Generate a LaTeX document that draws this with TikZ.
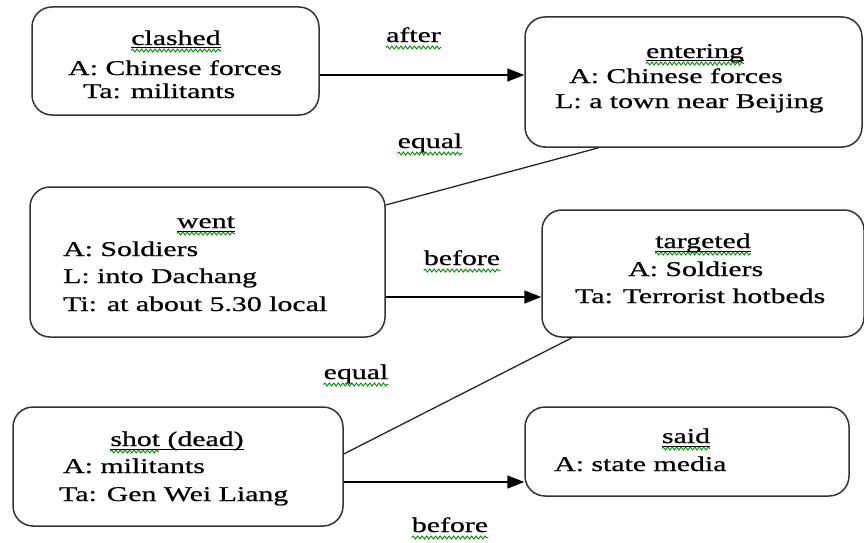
\documentclass[tikz,border=0pt]{standalone}
\usepackage{fontspec}
\setmainfont{Liberation Serif}[FakeStretch=1.42,FakeBold=0.7]
\usetikzlibrary{arrows.meta,calc,decorations.pathmorphing}
\tikzset{
  evbox/.style={draw=black!80, line width=1.5pt, rounded corners=20pt, inner sep=0pt},
  txt/.style={inner sep=0pt, anchor=base west, font=\fontsize{21}{26}\selectfont},
  head/.style={inner sep=0pt, anchor=base, font=\fontsize{21}{26}\selectfont},
  arr/.style={line width=1.7pt, -{Triangle[length=17pt,width=13pt]}},
  link/.style={line width=1.3pt, black!85},
  uline/.style={line width=1pt},
  squig/.style={draw=green!55!black, line width=0.9pt, decorate, decoration={snake, amplitude=1.5pt, segment length=4.5pt}}
}
\begin{document}
\begin{tikzpicture}[x=1pt,y=-1pt]
\useasboundingbox (0,0) rectangle (864,543);
% boxes
\node[evbox, minimum width=287pt, minimum height=108pt] (clashed) at (175.5,61) {};
\node[evbox, minimum width=337pt, minimum height=130pt] (entering) at (693.5,82) {};
\node[evbox, minimum width=355pt, minimum height=150pt] (went) at (207.5,262) {};
\node[evbox, minimum width=322pt, minimum height=127pt] (targeted) at (703,273.5) {};
\node[evbox, minimum width=330pt, minimum height=119pt] (shot) at (178,466.5) {};
\node[evbox, minimum width=324pt, minimum height=89pt] (said) at (687,451.5) {};
% clashed
\node[head] (c0) at (176,45) {clashed};
\node[txt] (c1) at (68,75) {A: Chinese forces};
\node[txt] (c2) at (83,98) {Ta: militants};
% entering
\node[head] (e0) at (695,58) {entering};
\node[txt] (e1) at (569,83) {A: Chinese forces};
\node[txt] (e2) at (555,108) {L: a town near Beijing};
% went
\node[head] (w0) at (206,228) {went};
\node[txt] (w1) at (63,256) {A: Soldiers};
\node[txt] (w2) at (63,283) {L: into Dachang};
\node[txt] (w3) at (63,311) {Ti: at about 5.30 local};
% targeted
\node[head] (t0) at (703,248) {targeted};
\node[txt] (t1) at (628,276) {A: Soldiers};
\node[txt] (t2) at (575,303) {Ta: Terrorist hotbeds};
% shot
\node[head] (s0) at (177,446) {shot (dead)};
\node[txt] (s1) at (63,473) {A: militants};
\node[txt] (s2) at (59,501) {Ta: Gen Wei Liang};
% said
\node[head] (d0) at (686,443) {said};
\node[txt] (d1) at (554,471) {A: state media};
% relation labels
\node[head] (la) at (413.5,42) {after};
\node[head] (le1) at (430,148) {equal};
\node[head] (lb1) at (462,265) {before};
\node[head] (le2) at (356,379) {equal};
\node[head] (lb2) at (450,532) {before};
% underlines of headings
\foreach \n in {c0,e0,w0,t0,s0,d0}{
  \draw[uline] ([yshift=-3pt]\n.base west) -- ([yshift=-3pt]\n.base east);
}
% spell-check squiggles
\foreach \n in {c0,e0,w0,t0,d0,la,le1,lb1,le2,lb2}{
  \draw[squig] ([yshift=-5.5pt]\n.base west) -- ([yshift=-5.5pt]\n.base east);
}
\draw[squig] ([yshift=-5.5pt]s0.base west) -- ([yshift=-5.5pt,xshift=-85pt]s0.base east);
% connectors
\coordinate (y1) at (0,75);
\coordinate (y2) at (0,205);
\coordinate (y3) at (0,297);
\coordinate (y4) at (0,454);
\coordinate (y5) at (0,482);
\draw[arr] (clashed.east |- y1) -- (entering.west |- y1);
\draw[link] ($(entering.south west)!0.22!(entering.south east)$) -- (went.east |- y2);
\draw[arr] (went.east |- y3) -- (targeted.west |- y3);
\draw[link] ($(targeted.south west)!0.095!(targeted.south east)$) -- (shot.east |- y4);
\draw[arr] (shot.east |- y5) -- (said.west |- y5);
\end{tikzpicture}
\end{document}
